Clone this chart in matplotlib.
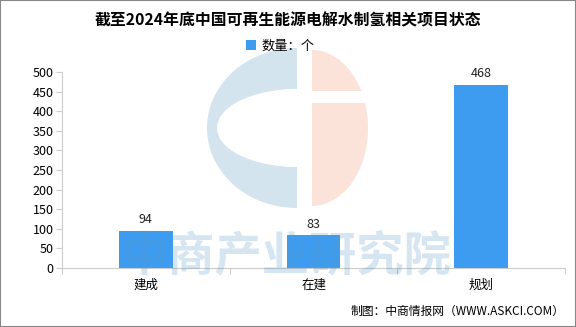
import matplotlib
matplotlib.use("Agg")
import matplotlib.pyplot as plt
from matplotlib.patches import Rectangle, Polygon
import numpy as np

plt.rcParams['font.family'] = ['Noto Sans CJK SC', 'DejaVu Sans']

categories = ['建成', '在建', '规划']
values = [94, 83, 468]
yticks = [0, 50, 100, 150, 200, 250, 300, 350, 400, 450, 500]
title = '截至2024年底中国可再生能源电解水制氢相关项目状态'
legend_label = '数量：个'
source = '制图：中商情报网（WWW.ASKCI.COM）'

fig = plt.figure(figsize=(5.76, 3.27), dpi=100)
fig.patch.set_facecolor('white')
fig.patches.append(Rectangle((0, 0), 1, 1, transform=fig.transFigure, fill=False,
                             edgecolor='#888888', linewidth=1.5))

# watermark logo (pixel coordinates, y down)
wax = fig.add_axes([0, 0, 1, 1], zorder=0)
wax.set_xlim(0, 576); wax.set_ylim(327, 0); wax.axis('off')
t = np.linspace(np.pi / 2, 3 * np.pi / 2, 100)
cx, cy = 297, 128
outer = np.column_stack([cx + 90 * np.cos(t), cy - 80 * np.sin(t)])
inner = np.column_stack([cx + 80 * np.cos(t[::-1]), cy - 39 * np.sin(t[::-1])])
wax.add_patch(Polygon(np.vstack([outer, inner]), closed=True, facecolor='#d3e4ee', edgecolor='none'))
t2 = np.linspace(-np.pi / 2, np.pi / 2, 100)
right = np.column_stack([312 + 56 * np.cos(t2), cy - 78 * np.sin(t2)])
right = np.vstack([right, [[312, cy - 78]]])
wax.add_patch(Polygon(right, closed=True, facecolor='#fbe3d9', edgecolor='none'))
wax.add_patch(Rectangle((312, 91), 60, 12, facecolor='white', edgecolor='none'))

ax = fig.add_axes([0.1076, 0.1804, 0.981 - 0.1076, 0.7798 - 0.1804], zorder=1)
ax.patch.set_alpha(0)
x = list(range(len(categories)))
bars = ax.bar(x, values, width=0.32, color='#3d9cf0', zorder=2, label=legend_label)
for xi, v in zip(x, values):
    ax.text(xi, v + 12, str(v), ha='center', va='bottom', fontsize=9, color='#222222')

ax.set_xlim(-0.5, 2.5)
ax.set_ylim(0, 500)
ax.set_yticks(yticks)
ax.set_yticklabels([str(t) for t in yticks], fontsize=9)
ax.set_xticks([-0.5, 0.5, 1.5, 2.5], minor=False)
ax.set_xticklabels([])
ax.set_xticks(x, minor=True)
ax.set_xticklabels(categories, minor=True, fontsize=9)
ax.tick_params(axis='x', which='minor', length=0, pad=8)
ax.tick_params(axis='x', which='major', length=4, color='#cccccc')
ax.tick_params(axis='y', length=4, color='#cccccc', pad=2)
for s in ['top', 'right']:
    ax.spines[s].set_visible(False)
ax.spines['left'].set_color('#cccccc')
ax.spines['bottom'].set_color('#cccccc')

# watermark text over bars
fig.text(286 / 576, 1 - 256 / 327, '中商产业研究院', fontsize=34, color='#5b9bc8', alpha=0.25,
         ha='center', va='center', fontweight='bold', zorder=5)

fig.text(0.5, 1 - 20 / 327, title, ha='center', va='center', fontsize=11.4, fontweight='bold')
fig.legend(handles=[bars], labels=[legend_label], loc='center', bbox_to_anchor=(280 / 576, 1 - 46 / 327),
           frameon=False, fontsize=9.5, handlelength=0.8, handleheight=0.8, handletextpad=0.4)
fig.text(0.98, 1 - 311 / 327, source, ha='right', va='center', fontsize=8.5)

fig.savefig('out.png', dpi=100)
